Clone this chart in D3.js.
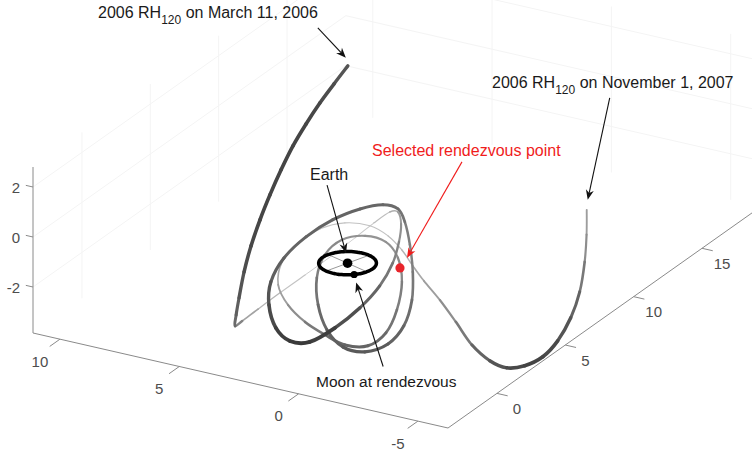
<!DOCTYPE html>
<html><head><meta charset="utf-8">
<script src="https://cdn.jsdelivr.net/npm/d3@7"></script>
<style>body{margin:0;background:#fff} text{font-family:"Liberation Sans",Arial,sans-serif}</style>
</head><body><svg id="c" width="752" height="453"></svg>
<script>
// ---------- data ----------
const xTicks=[-5,0,5,10], yTicks=[0,5,10,15], zTicks=[-2,0,2];
const xLim=[-6.26,11.13], yLim=[-3.58,19.3], zLim=[-3.84,2.8];
// trajectory of 2006 RH120 (Earth-centred, lunar distances)
const trajX=[0.24,0.24,0.37,0.53,0.78,0.98,1.15,1.28,1.49,1.70,1.97,2.24,2.49,
 3.51,3.70,3.61,3.19,2.71,2.06,1.27,0.55,
 -0.31,-0.92,-1.29,-1.61,-1.79,-1.93,-1.89,-1.50,-0.86,-0.02,0.67,1.08,1.14,0.60,-0.12,-0.90,-1.47,-1.80,-1.81,
 -1.84,-2.31,-2.79,-3.03,-2.96,-2.41,-1.68,-0.75,0.02,0.56,0.78,0.65,0.13,-0.57,-1.25,
 -1.86,-2.21,-2.33,-2.16,-1.43,-0.42,0.91,2.18,2.94,3.29,3.22,2.93,2.19,1.38,0.73,-0.11,
 -0.88,-1.64,-2.59,-3.86,-5.14,-6.43,-7.32,-8.17,-8.68,-8.73,-8.67,-8.16,-7.49,-6.75,-6.27];
const trajY=[0.44,-0.57,-1.38,-2.11,-2.63,-3.15,-3.67,-4.17,-4.46,-4.60,-4.50,-4.24,-3.88,
 -1.58,-0.09,1.36,2.46,3.45,4.15,4.15,4.05,
 3.14,2.31,1.51,0.50,-0.77,-2.46,-4.22,-5.38,-5.72,-5.28,-4.58,-3.72,-2.65,-1.99,-1.28,-0.66,0.02,0.55,1.03,
 1.35,0.74,-0.16,-1.17,-2.21,-2.94,-3.27,-2.81,-2.12,-1.27,-0.30,0.73,1.51,1.80,1.50,
 0.73,-0.25,-1.26,-2.28,-2.68,-2.38,-1.52,-0.55,0.06,0.95,2.01,3.11,3.63,4.04,4.24,3.78,
 3.24,2.72,2.23,1.18,0.12,-0.82,-1.13,-1.31,-0.87,0.13,1.19,2.74,4.27,5.70,6.55];
const trajZ=[7.67,7.34,6.86,6.27,5.54,4.74,3.90,3.07,2.09,1.06,-0.08,-0.92,-1.55,
 -2.47,-2.61,-2.50,-2.12,-1.68,-1.04,-0.27,0.36,
 0.90,0.88,0.55,0.17,-0.22,-0.41,-0.54,-0.74,-0.71,-0.54,-0.04,0.46,0.99,1.69,2.26,2.62,2.65,2.35,1.65,
 0.61,-0.13,-0.80,-1.39,-1.73,-1.88,-1.72,-1.42,-0.85,-0.22,0.28,0.51,0.48,0.28,-0.09,
 -0.62,-1.29,-1.79,-1.95,-1.92,-1.85,-1.96,-1.93,-1.53,-1.04,-0.67,-0.47,-0.27,-0.37,-0.71,-0.91,
 -1.17,-1.40,-1.77,-1.96,-2.19,-2.18,-2.15,-1.81,-1.51,-1.25,-0.75,-0.42,0.04,0.41,0.97];
const earthPos=[0,0,0];
const moonOrbitRadius=1.05;
const moonAngleDeg=-133;
const spokeAnglesDeg=[18,108];
const rendezvousPos=[-1.87,0.57,0];
const annTexts=["2006 RH","120"," on March 11, 2006"," on November 1, 2007","Selected rendezvous point","Earth","Moon at rendezvous"];

// ---------- projection (orthographic 3-D axes) ----------
const F=[448,428], BL=[33,333], FR=[760.8,206.7], zTopPx=167;
const sxx=d3.scaleLinear().domain(xLim).range([F[0],BL[0]]);
const syx=d3.scaleLinear().domain(xLim).range([F[1],BL[1]]);
const sxy=d3.scaleLinear().domain(yLim).range([0,FR[0]-F[0]]);
const syy=d3.scaleLinear().domain(yLim).range([0,FR[1]-F[1]]);
const syz=d3.scaleLinear().domain(zLim).range([0,zTopPx-BL[1]]);
const P=(x,y,z)=>[sxx(x)+sxy(y), syx(x)+syy(y)+syz(z)];
const dx=xLim[1]-xLim[0], dy=yLim[1]-yLim[0], dz=zLim[1]-zLim[0];
const ex=[(BL[0]-F[0])/dx,(BL[1]-F[1])/dx], ey=[(FR[0]-F[0])/dy,(FR[1]-F[1])/dy], ez=[0,(zTopPx-BL[1])/dz];
const view=[(ey[0]*ez[1])/1000, (-ex[0]*ez[1])/1000, (ex[0]*ey[1]-ey[0]*ex[1])/1000];
const near=(x,y,z)=>view[0]*x+view[1]*y+view[2]*z;

const svg=d3.select("#c");
const gGrid=svg.append("g"), gAxes=svg.append("g"), gTraj=svg.append("g"), gAnn=svg.append("g");
const seg=(g,a,b,col,w)=>{const p=P(...a),q=P(...b);g.append("line").attr("x1",p[0]).attr("y1",p[1]).attr("x2",q[0]).attr("y2",q[1]).attr("stroke",col).attr("stroke-width",w);};

// ---------- grid (back walls, very faint) ----------
const [x0,x1]=xLim,[y0,y1]=yLim,[z0,z1]=zLim, gc="#f4f4f4";
yTicks.forEach(y=>seg(gGrid,[x1,y,z0],[x1,y,z1],gc,1));
xTicks.forEach(x=>seg(gGrid,[x,y1,z0],[x,y1,z1],gc,1));
zTicks.forEach(z=>{seg(gGrid,[x1,y0,z],[x1,y1,z],gc,1);seg(gGrid,[x0,y1,z],[x1,y1,z],gc,1);});

// ---------- axes ----------
const ac="#8a8a8a", tc="#4d4d4d";
seg(gAxes,[x0,y0,z0],[x1,y0,z0],ac,1);
seg(gAxes,[x0,y0,z0],[x0,y1,z0],ac,1);
seg(gAxes,[x1,y0,z0],[x1,y0,z1],ac,1);
const lab=(p,t,anchor)=>gAxes.append("text").attr("x",p[0]).attr("y",p[1]).attr("text-anchor",anchor).attr("dominant-baseline","central").attr("font-size",15).attr("fill",tc).text(t);
xTicks.forEach(x=>{seg(gAxes,[x,y0,z0],[x,y0-0.75,z0],ac,1);const p=P(x,y0,z0);lab([p[0]-20,p[1]+22],x,"middle");});
yTicks.forEach(y=>{seg(gAxes,[x0,y,z0],[x0-0.45,y,z0],ac,1);const p=P(x0,y,z0);lab([p[0]+20,p[1]+15],y,"middle");});
zTicks.forEach(z=>{seg(gAxes,[x1,y0,z],[x1+0.3,y0,z],ac,1);const p=P(x1,y0,z);lab([p[0]-13,p[1]],z,"end");});

// ---------- trajectory (depth-cued) ----------
const pts=trajX.map((x,i)=>({p:P(x,trajY[i],trajZ[i]),n:near(x,trajY[i],trajZ[i])}));
const ext=d3.extent(pts,d=>d.n);
const wS=d3.scaleLinear().domain(ext).range([0.9,3.9]);
const cS=d3.scaleLinear().domain(ext).range(["#cdcdcd","#3a3a3a"]);
const segs=[];
for(let i=0;i<pts.length-1;i++){
  const p0=pts[Math.max(i-1,0)].p,p1=pts[i].p,p2=pts[i+1].p,p3=pts[Math.min(i+2,pts.length-1)].p;
  const c1=[p1[0]+(p2[0]-p0[0])/6,p1[1]+(p2[1]-p0[1])/6], c2=[p2[0]-(p3[0]-p1[0])/6,p2[1]-(p3[1]-p1[1])/6];
  segs.push({d:`M${p1}C${c1} ${c2} ${p2}`,n:(pts[i].n+pts[i+1].n)/2});
}
segs.sort((a,b)=>a.n-b.n);
gTraj.selectAll("path").data(segs).join("path").attr("d",d=>d.d).attr("fill","none")
  .attr("stroke",d=>cS(d.n)).attr("stroke-width",d=>wS(d.n)).attr("stroke-linecap","round");

// ---------- Earth, Moon orbit ----------
const rad=Math.PI/180;
spokeAnglesDeg.forEach(a=>{const c=Math.cos(a*rad)*moonOrbitRadius,s=Math.sin(a*rad)*moonOrbitRadius;
  seg(gTraj,[earthPos[0]-c,earthPos[1]-s,earthPos[2]],[earthPos[0]+c,earthPos[1]+s,earthPos[2]],"#999",1);});
const orbit=d3.range(0,360,4).map(a=>P(earthPos[0]+moonOrbitRadius*Math.cos(a*rad),earthPos[1]+moonOrbitRadius*Math.sin(a*rad),earthPos[2]));
gTraj.append("path").attr("d",d3.line().curve(d3.curveCardinalClosed)(orbit)).attr("fill","none").attr("stroke","#000").attr("stroke-width",3.5);
const eP=P(...earthPos);
gTraj.append("circle").attr("cx",eP[0]).attr("cy",eP[1]).attr("r",4.8).attr("fill","#000");
const mP=P(earthPos[0]+moonOrbitRadius*Math.cos(moonAngleDeg*rad),earthPos[1]+moonOrbitRadius*Math.sin(moonAngleDeg*rad),earthPos[2]);
gTraj.append("circle").attr("cx",mP[0]).attr("cy",mP[1]).attr("r",3.6).attr("fill","#000");
const rP=P(...rendezvousPos);
gTraj.append("circle").attr("cx",rP[0]).attr("cy",rP[1]).attr("r",4.6).attr("fill","#e8242b");

// ---------- annotations ----------
function arrow(tip,off,col){
  const tail=[tip[0]+off[0],tip[1]+off[1]];
  const L=Math.hypot(off[0],off[1]),ux=-off[0]/L,uy=-off[1]/L;
  const hl=10,hw=4,nb=7;
  const base=[tip[0]-ux*nb,tip[1]-uy*nb];
  gAnn.append("line").attr("x1",tail[0]).attr("y1",tail[1]).attr("x2",base[0]).attr("y2",base[1]).attr("stroke",col).attr("stroke-width",1.1);
  const b=[tip[0]-ux*hl,tip[1]-uy*hl];
  gAnn.append("path").attr("d",`M${tip}L${b[0]-uy*hw},${b[1]+ux*hw}L${base}L${b[0]+uy*hw},${b[1]-ux*hw}Z`).attr("fill",col);
}
const sP=pts[0].p, nP=pts[pts.length-1].p;
arrow([sP[0]-2,sP[1]-8],[-28,-30],"#111");
arrow([nP[0]+1,nP[1]-10],[22,-102],"#111");
arrow([rP[0]+7,rP[1]-10],[55,-96],"#f01c1c");
arrow([eP[0]-1.5,eP[1]-10],[-19,-68],"#111");
arrow([mP[0]+2,mP[1]+8],[27,84],"#111");

function rhLabel(x,y,tail){
  const t=gAnn.append("text").attr("x",x).attr("y",y).attr("font-size",16).attr("fill","#1a1a1a");
  t.append("tspan").text(annTexts[0]);
  t.append("tspan").attr("font-size",12).attr("dy",6).text(annTexts[1]);
  t.append("tspan").attr("dy",-6).text(tail);
}
rhLabel(98,18,annTexts[2]);
rhLabel(492,88,annTexts[3]);
gAnn.append("text").attr("x",372).attr("y",156).attr("font-size",16).attr("fill","#f01c1c").text(annTexts[4]);
gAnn.append("text").attr("x",310).attr("y",180).attr("font-size",16).attr("fill","#1a1a1a").text(annTexts[5]);
gAnn.append("text").attr("x",316).attr("y",387).attr("font-size",15.5).attr("fill","#1a1a1a").text(annTexts[6]);
</script></body></html>
